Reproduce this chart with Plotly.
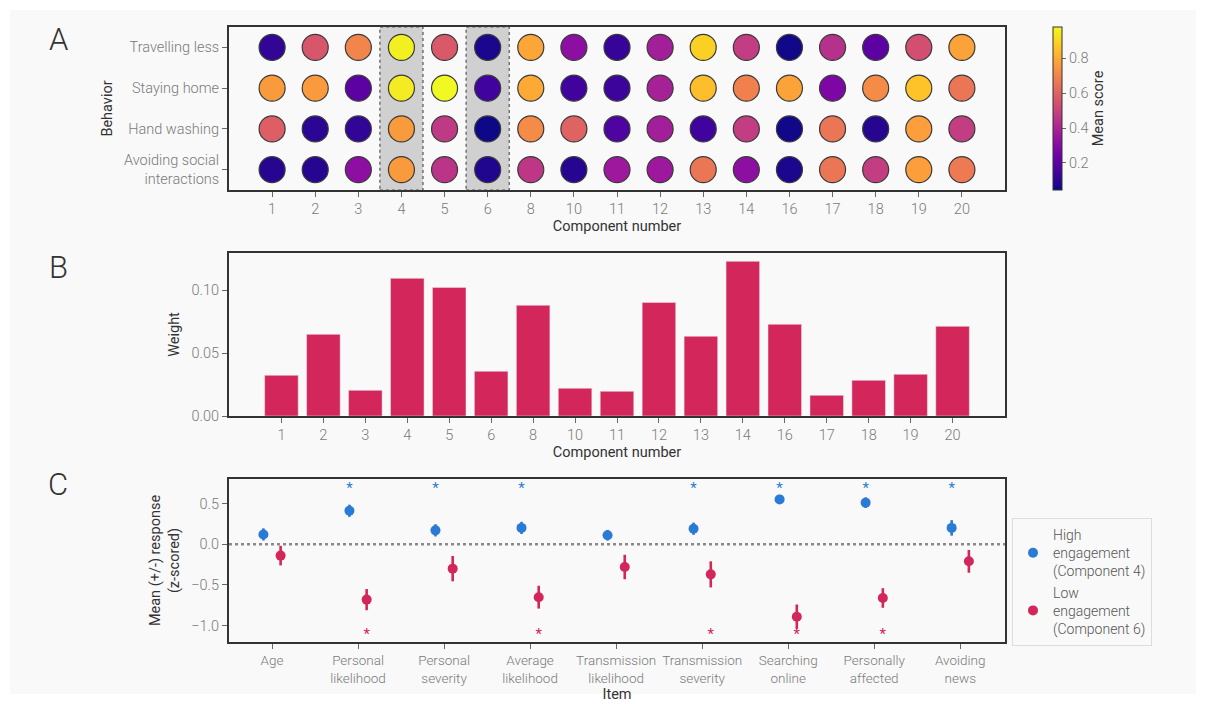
import plotly.graph_objects as go

# ---- Panel A: mean behaviour scores per component ----
components = ["1", "2", "3", "4", "5", "6", "8", "10", "11", "12",
              "13", "14", "16", "17", "18", "19", "20"]
behaviors = ["Travelling less", "Staying home", "Hand washing",
             "Avoiding social<br>interactions"]
travelling_less = [0.11, 0.56, 0.70, 0.96, 0.57, 0.07, 0.79, 0.32, 0.12, 0.38,
                   0.89, 0.48, 0.05, 0.44, 0.20, 0.54, 0.78]
staying_home = [0.76, 0.76, 0.20, 0.95, 0.98, 0.14, 0.80, 0.14, 0.13, 0.39,
                0.85, 0.69, 0.78, 0.28, 0.72, 0.86, 0.66]
hand_washing = [0.59, 0.10, 0.11, 0.76, 0.47, 0.045, 0.72, 0.60, 0.17, 0.38,
                0.14, 0.48, 0.05, 0.66, 0.09, 0.77, 0.48]
avoiding_social = [0.09, 0.09, 0.32, 0.76, 0.45, 0.08, 0.46, 0.09, 0.36, 0.36,
                   0.66, 0.32, 0.07, 0.66, 0.48, 0.77, 0.67]
highlighted = ["4", "6"]

# ---- Panel B: component weights ----
weights = [0.0323, 0.0648, 0.0204, 0.1093, 0.1021, 0.0355, 0.0879, 0.0220,
           0.0196, 0.0902, 0.0633, 0.1228, 0.0728, 0.0164, 0.0283, 0.0331, 0.0712]

# ---- Panel C: questionnaire items ----
items = ["Age", "Personal<br>likelihood", "Personal<br>severity", "Average<br>likelihood",
         "Transmission<br>likelihood", "Transmission<br>severity", "Searching<br>online",
         "Personally<br>affected", "Avoiding<br>news"]
high_mean = [0.12, 0.41, 0.17, 0.20, 0.11, 0.19, 0.55, 0.51, 0.20]
high_err = [0.075, 0.075, 0.075, 0.075, 0.065, 0.075, 0.055, 0.065, 0.095]
low_mean = [-0.14, -0.68, -0.30, -0.65, -0.28, -0.37, -0.89, -0.66, -0.21]
low_err = [0.12, 0.13, 0.155, 0.14, 0.15, 0.16, 0.15, 0.12, 0.14]
high_sig = [False, True, True, True, False, True, True, True, True]
low_sig = [False, True, False, True, False, True, True, True, False]

W, H = 1206, 704
FONT = "Roboto"
TICK_GREY = "#7a7a7a"
TITLE_DARK = "#333333"
FRAME = "#333333"
BG = "#f9f9f9"
BLUE = "#2a7bd5"
RED = "#d3265a"


def px(x):
    return x / W


def py(y):
    return 1 - y / H


fig = go.Figure()

# Panel A dots
for name, vals in zip(behaviors, [travelling_less, staying_home, hand_washing, avoiding_social]):
    fig.add_trace(go.Scatter(
        x=components, y=[name] * len(components), mode="markers",
        marker=dict(size=26, color=vals, coloraxis="coloraxis",
                    line=dict(color="#3a3a3a", width=1.2)),
        showlegend=False, xaxis="x", yaxis="y", hoverinfo="skip"))

# Panel B bars
fig.add_trace(go.Bar(x=components, y=weights, marker_color=RED, width=0.8,
                     showlegend=False, xaxis="x2", yaxis="y2"))

# Panel C points with error bars
idx = list(range(len(items)))
dodge = 0.1
fig.add_trace(go.Scatter(
    x=[i - dodge for i in idx], y=high_mean, mode="markers",
    marker=dict(size=10, color=BLUE),
    error_y=dict(type="data", array=high_err, color=BLUE, thickness=2.6, width=0),
    name="High<br>engagement<br>(Component 4)", xaxis="x3", yaxis="y3"))
fig.add_trace(go.Scatter(
    x=[i + dodge for i in idx], y=low_mean, mode="markers",
    marker=dict(size=10, color=RED),
    error_y=dict(type="data", array=low_err, color=RED, thickness=2.6, width=0),
    name="Low<br>engagement<br>(Component 6)", xaxis="x3", yaxis="y3"))

# significance stars
fig.add_trace(go.Scatter(
    x=[i - dodge for i in idx if high_sig[i]], y=[0.68] * sum(high_sig),
    mode="text", text=["*"] * sum(high_sig),
    textfont=dict(color=BLUE, size=15, family=FONT),
    showlegend=False, xaxis="x3", yaxis="y3", hoverinfo="skip"))
fig.add_trace(go.Scatter(
    x=[i + dodge for i in idx if low_sig[i]], y=[-1.12] * sum(low_sig),
    mode="text", text=["*"] * sum(low_sig),
    textfont=dict(color=RED, size=15, family=FONT),
    showlegend=False, xaxis="x3", yaxis="y3", hoverinfo="skip"))

xdom = [px(229), px(1005)]
tickfont = dict(size=14.5, color=TICK_GREY, family=FONT, weight=300)
axis_common = dict(showline=True, mirror=True, linecolor=FRAME, linewidth=2,
                   ticks="outside", ticklen=5, tickcolor="#666", showgrid=False,
                   zeroline=False, automargin=False)
title_font = dict(size=14.5, color=TITLE_DARK, family=FONT)

shapes = [
    dict(type="rect", xref="paper", yref="paper", x0=px(10), x1=px(1196),
         y0=py(694), y1=py(10), fillcolor=BG, line_width=0, layer="below"),
]
for comp in highlighted:
    k = components.index(comp)
    shapes.append(dict(type="rect", xref="x", yref="y domain", x0=k - 0.5, x1=k + 0.5,
                       y0=0, y1=1, fillcolor="#d0d0d0",
                       line=dict(color="#555", width=1.2, dash="dot"), layer="below"))
shapes.append(dict(type="line", xref="x3 domain", yref="y3", x0=0, x1=1, y0=0, y1=0,
                   line=dict(color="#8a8a8a", width=2.6, dash="dot"), layer="below"))

annotations = []
for letter, yy in [("A", 40), ("B", 268), ("C", 484)]:
    annotations.append(dict(text=letter, xref="paper", yref="paper", x=px(58), y=py(yy),
                            showarrow=False, xanchor="center", yanchor="middle",
                            font=dict(size=31, color="#333", family=FONT, weight=300)))

fig.update_layout(
    width=W, height=H,
    margin=dict(l=0, r=0, t=0, b=0),
    paper_bgcolor="white", plot_bgcolor=BG,
    font=dict(family=FONT, color=TITLE_DARK, size=13),
    shapes=shapes, annotations=annotations,
    coloraxis=dict(
        colorscale="Plasma", cmin=0.045, cmax=0.98,
        colorbar=dict(
            x=px(1053), xanchor="left", y=py(27), yanchor="top", xpad=0, ypad=0,
            len=163 / H, lenmode="fraction", thickness=9,
            outlinewidth=1, outlinecolor=FRAME,
            tickvals=[0.2, 0.4, 0.6, 0.8], ticks="outside", ticklen=4, tickcolor="#666",
            tickfont=tickfont,
            title=dict(text="Mean score", side="right", font=title_font),
        )),
    xaxis=dict(domain=xdom, anchor="y", range=[-1, 17], type="category",
               categoryorder="array", categoryarray=components, tickfont=tickfont,
               title=dict(text="Component number", standoff=2, font=title_font), **axis_common),
    yaxis=dict(domain=[py(190), py(27)], anchor="x", type="category",
               categoryorder="array", categoryarray=behaviors, range=[3.5, -0.5],
               tickfont=tickfont,
               title=dict(text="Behavior", standoff=8, font=title_font), **axis_common),
    xaxis2=dict(domain=xdom, anchor="y2", range=[-1.25, 17.25], type="category",
                categoryorder="array", categoryarray=components, tickfont=tickfont,
                title=dict(text="Component number", standoff=2, font=title_font), **axis_common),
    yaxis2=dict(domain=[py(416), py(253)], anchor="x2", range=[0, 0.1294],
                tickvals=[0, 0.05, 0.10], tickformat=".2f", tickfont=tickfont,
                title=dict(text="Weight", standoff=8, font=title_font), **axis_common),
    xaxis3=dict(domain=xdom, anchor="y3", range=[-0.5, 8.52],
                tickvals=idx, ticktext=items, tickangle=0,
                tickfont=dict(size=13.5, color=TICK_GREY, family=FONT, weight=300),
                title=dict(text="Item", standoff=0, font=title_font), **axis_common),
    yaxis3=dict(domain=[py(642), py(479)], anchor="x3", range=[-1.2, 0.8],
                tickvals=[-1.0, -0.5, 0.0, 0.5], tickformat=".1f", tickfont=tickfont,
                title=dict(text="Mean (+/-) response<br>(z-scored)", standoff=8, font=title_font),
                **axis_common),
    legend=dict(x=px(1012), y=py(518), xanchor="left", yanchor="top",
                bgcolor=BG, bordercolor="#dddddd", borderwidth=1,
                font=dict(size=14, color="#555", family=FONT, weight=300),
                tracegroupgap=0, itemwidth=30),
)

fig.write_html("out.html")
